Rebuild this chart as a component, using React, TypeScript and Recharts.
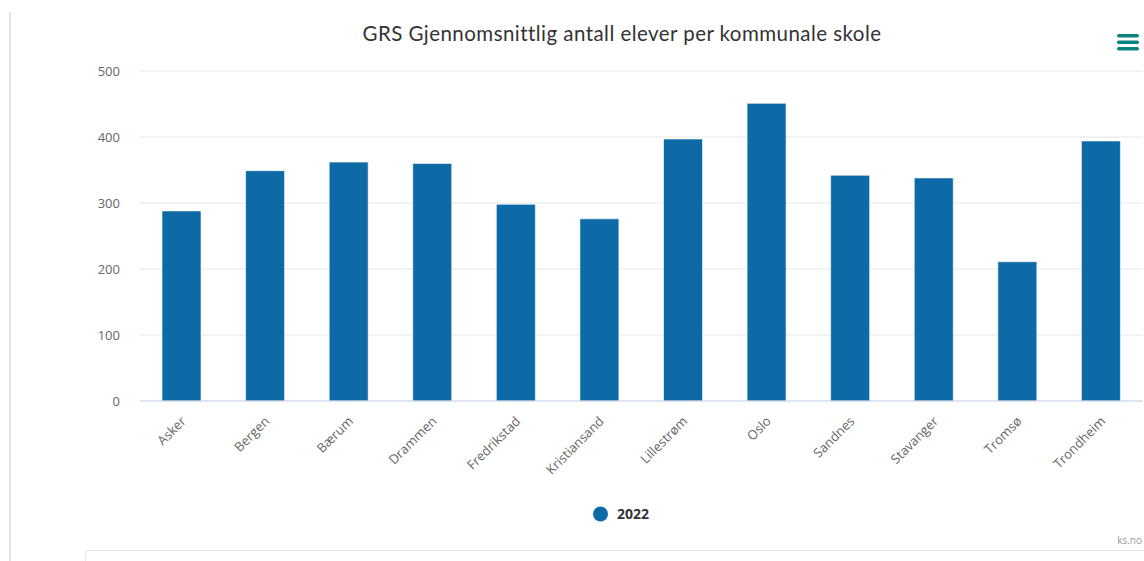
import React from "react";
import { BarChart, Bar, XAxis, YAxis, CartesianGrid } from "recharts";

const categories = [
  "Asker",
  "Bergen",
  "Bærum",
  "Drammen",
  "Fredrikstad",
  "Kristiansand",
  "Lillestrøm",
  "Oslo",
  "Sandnes",
  "Stavanger",
  "Tromsø",
  "Trondheim",
];
const values2022 = [288, 349, 362, 360, 298, 276, 397, 451, 342, 338, 211, 394];
const yTicks = [0, 100, 200, 300, 400, 500];
const seriesName = "2022";
const title = "GRS Gjennomsnittlig antall elever per kommunale skole";
const credit = "ks.no";

const data = categories.map((c, i) => ({ name: c, v: values2022[i] }));

const BAR_COLOR = "#0d6aa7";
const LABEL_FONT = "'Open Sans', sans-serif";

const XTick = (props: any) => {
  const { x, y, payload } = props;
  const ax = x + 5;
  const ay = y + 13;
  return (
    <text
      x={ax}
      y={ay}
      transform={`rotate(-45, ${ax}, ${ay})`}
      textAnchor="end"
      fill="#666666"
      fontSize={13}
      fontFamily={LABEL_FONT}
    >
      {payload.value}
    </text>
  );
};

export default function App() {
  return (
    <div
      style={{
        position: "absolute",
        left: 0,
        top: 0,
        width: 1144,
        height: 561,
        background: "#ffffff",
        overflow: "hidden",
      }}
    >
      <div
        style={{
          position: "absolute",
          left: 9,
          top: 12,
          width: 1.5,
          height: 549,
          background: "#e2e2e2",
        }}
      />
      <div
        style={{
          position: "absolute",
          left: 85,
          top: 550,
          width: 1080,
          height: 30,
          border: "1.5px solid #e4e4e4",
          borderRadius: 4,
        }}
      />
      <div
        style={{
          position: "absolute",
          left: 0,
          top: 21,
          width: 1244,
          textAlign: "center",
          fontFamily: "Lato, sans-serif",
          fontSize: 20.5,
          letterSpacing: 0.45,
          color: "#333333",
          whiteSpace: "nowrap",
        }}
      >
        {title}
      </div>
      <svg
        style={{ position: "absolute", left: 1115, top: 32 }}
        width={26}
        height={20}
      >
        {[2, 8.5, 15].map((yy) => (
          <rect key={yy} x={2} y={yy} width={22} height={3.4} rx={1.7} fill="#0b847e" />
        ))}
      </svg>
      <div style={{ position: "absolute", left: 0, top: 0 }}>
        <BarChart
          width={1144}
          height={561}
          data={data}
          margin={{ top: 71, right: 1, left: 0, bottom: 60 }}
        >
          <CartesianGrid vertical={false} stroke="#e6e6e6" />
          <XAxis
            dataKey="name"
            interval={0}
            height={100}
            tickLine={false}
            axisLine={{ stroke: "#ccd6eb" }}
            tick={<XTick />}
          />
          <YAxis
            width={140}
            domain={[0, 500]}
            ticks={yTicks}
            axisLine={false}
            tickLine={false}
            tickSize={6}
            tickMargin={14}
            tick={{ fill: "#666666", fontSize: 13, fontFamily: LABEL_FONT }}
          />
          <Bar
            dataKey="v"
            name={seriesName}
            fill={BAR_COLOR}
            stroke="#ffffff"
            strokeOpacity={0.6}
            strokeWidth={1}
            barSize={39}
            isAnimationActive={false}
          />
        </BarChart>
      </div>
      <div
        style={{
          position: "absolute",
          left: 592,
          top: 504,
          display: "flex",
          alignItems: "center",
          fontFamily: LABEL_FONT,
          fontWeight: 700,
          fontSize: 14,
          color: "#333333",
        }}
      >
        <svg width={18} height={18} style={{ marginRight: 7 }}>
          <circle cx={8.5} cy={9} r={7.5} fill={BAR_COLOR} />
        </svg>
        <span>{seriesName}</span>
      </div>
      <div
        style={{
          position: "absolute",
          right: 2,
          top: 533,
          fontFamily: LABEL_FONT,
          fontSize: 10,
          color: "#999999",
        }}
      >
        {credit}
      </div>
    </div>
  );
}
